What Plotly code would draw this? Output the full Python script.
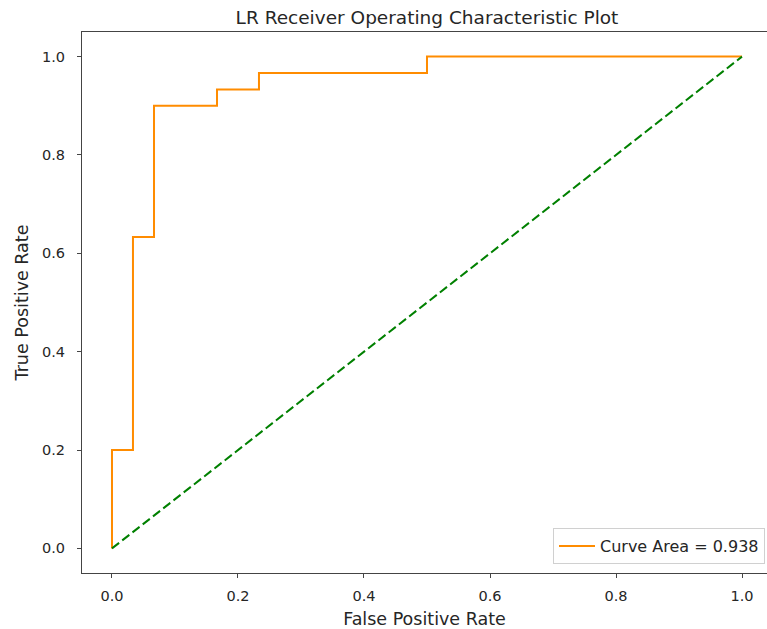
import plotly.graph_objects as go

# ROC curve points (false positive rate, true positive rate)
fpr = [0.0, 0.0, 0.0333, 0.0333, 0.0667, 0.0667, 0.1667, 0.1667, 0.2333, 0.2333, 0.5, 0.5, 1.0]
tpr = [0.0, 0.2, 0.2, 0.6333, 0.6333, 0.9, 0.9, 0.9333, 0.9333, 0.9667, 0.9667, 1.0, 1.0]
auc_value = 0.938

diag_x = [0.0, 1.0]
diag_y = [0.0, 1.0]

tick_vals = [0.0, 0.2, 0.4, 0.6, 0.8, 1.0]
tick_text = ["0.0", "0.2", "0.4", "0.6", "0.8", "1.0"]

FONT = "DejaVu Sans"
TXT = "#262626"

fig = go.Figure()
fig.add_trace(go.Scatter(
    x=fpr, y=tpr, mode="lines",
    line=dict(color="#ff8c00", width=2),
    name=f"Curve Area = {auc_value:.3f}",
))
fig.add_trace(go.Scatter(
    x=diag_x, y=diag_y, mode="lines",
    line=dict(color="#008000", width=2, dash="9px,4px"),
    showlegend=False,
))

fig.update_layout(
    width=767, height=629,
    margin=dict(l=82, r=0, t=32, b=56),
    paper_bgcolor="white", plot_bgcolor="white",
    font=dict(family=FONT, color=TXT, size=14.5),
    title=dict(
        text="LR Receiver Operating Characteristic Plot",
        x=427 / 767, xref="container", xanchor="center",
        y=1 - 18 / 629, yref="container", yanchor="middle",
        font=dict(family=FONT, size=18.5, color=TXT),
    ),
    showlegend=True,
    legend=dict(
        x=(765 - 82) / 685, xanchor="right",
        y=(573 - 564) / 541, yanchor="bottom",
        bgcolor="white", bordercolor="#d0d0d0", borderwidth=1,
        itemwidth=36,
        font=dict(family=FONT, size=16, color=TXT),
    ),
)

fig.update_xaxes(
    range=[-0.0476, (767 - 112) / 630],
    tickvals=tick_vals, ticktext=tick_text,
    showgrid=False, zeroline=False,
    showline=True, linecolor="#444444", linewidth=1, mirror=True,
    ticks="outside", ticklen=4, tickcolor="#444444",
    ticklabelstandoff=6,
    title=dict(text="False Positive Rate", font=dict(size=17.5), standoff=9),
    tickfont=dict(size=14.5),
)
fig.update_yaxes(
    range=[-0.05, 1.05],
    tickvals=tick_vals, ticktext=tick_text,
    showgrid=False, zeroline=False,
    showline=True, linecolor="#444444", linewidth=1,
    ticks="outside", ticklen=4, tickcolor="#444444",
    ticklabelstandoff=9,
    title=dict(text="True Positive Rate", font=dict(size=17.5), standoff=8),
    tickfont=dict(size=14.5),
)

fig.write_html("out.html")
